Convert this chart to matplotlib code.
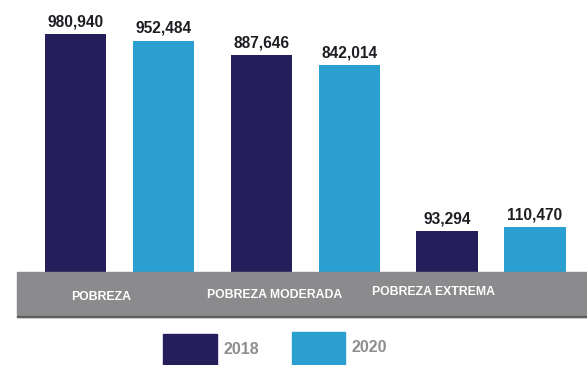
import matplotlib
matplotlib.use("Agg")
import matplotlib.pyplot as plt
from matplotlib.patches import Rectangle
import numpy as np

# Data
categories = ["POBREZA", "POBREZA MODERADA", "POBREZA EXTREMA"]
years = ["2018", "2020"]
values_2018 = [980940, 887646, 93294]
values_2020 = [952484, 842014, 110470]

# Styling
navy = "#241e5a"
cyan = "#2a9fd0"
band_gray = "#8b8b8d"
legend_gray = "#8e8e8e"
value_color = "#1e1e22"
font = "Liberation Sans"

W, H = 587, 365
fig = plt.figure(figsize=(W / 100, H / 100), dpi=100)

# Plot area: top of figure down to the gray category band
band_top, band_bottom = 272, 317
ax = fig.add_axes([0, (H - band_top) / H, 1, band_top / H])
base = -93500
ax.set_ylim(base, base + band_top * 4519)
ax.set_xlim(-0.645, 2.517)
ax.axis("off")

x = np.arange(len(categories))
offset, width = 0.237, 0.33
for vals, dx, color in [(values_2018, -offset, navy), (values_2020, offset, cyan)]:
    heights = [v - base for v in vals]
    ax.bar(x + dx, heights, width=width, bottom=base, color=color, zorder=2)
    for xi, v in zip(x + dx, vals):
        ax.annotate(f"{v:,}", (xi, v), xytext=(0, 5.5), textcoords="offset points",
                    ha="center", va="baseline", fontsize=11.2, fontweight="bold",
                    color=value_color, family=font)

# Gray category band with a slightly darker lower edge
fig.patches.append(Rectangle((17 / W, (H - band_bottom) / H), (W - 17) / W,
                             (band_bottom - band_top) / H,
                             transform=fig.transFigure, color=band_gray, zorder=1))
fig.patches.append(Rectangle((17 / W, (H - band_bottom) / H), (W - 17) / W, 1.5 / H,
                             transform=fig.transFigure, color="#5e5e60", zorder=1))
label_shift = [-0.10, -0.164, -0.307]
label_y = [297, 295, 292]
for xi, cat, s, ly in zip(x, categories, label_shift, label_y):
    fig.text((119.75 + (xi + s) * 185.6) / W, (H - ly) / H, cat, ha="center", va="center",
             color="white", fontsize=8.8, fontweight="heavy", family=font)

# Legend
for (x0, x1, y0), color, label in [((163, 217, 334), navy, years[0]),
                                    ((292, 345, 332), cyan, years[1])]:
    fig.patches.append(Rectangle((x0 / W, 0), (x1 - x0) / W, (H - y0) / H,
                                 transform=fig.transFigure, color=color))
    fig.text((x1 + 6) / W, (H - (y0 + 15)) / H, label, ha="left", va="center",
             color=legend_gray, fontsize=11.5, fontweight="bold", family=font)

fig.savefig("out.png", dpi=100)
